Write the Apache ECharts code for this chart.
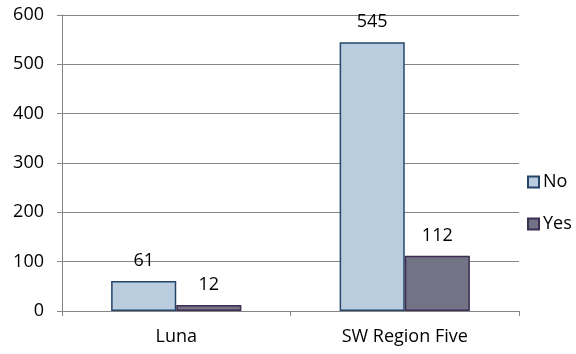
<!DOCTYPE html>
<html><head><meta charset="utf-8">
<script src="https://cdn.jsdelivr.net/npm/echarts@6/dist/echarts.min.js"></script>
<style>html,body{margin:0;padding:0;background:#fff}#c{width:576px;height:354px}</style>
</head><body><div id="c"></div>
<script>
const categories = ['Luna', 'SW Region Five'];
const seriesNames = ['No', 'Yes'];
const noValues = [61, 545];
const yesValues = [12, 112];
const yTicks = [0, 100, 200, 300, 400, 500, 600];

const font = '"Open Sans", "Liberation Sans", sans-serif';
const fs = 18;
const chart = echarts.init(document.getElementById('c'), null, {renderer: 'canvas'});
const label = {show: true, position: 'top', distance: 11, color: '#000', fontSize: fs, fontFamily: font};
chart.setOption({
  animation: false,
  grid: {left: 62, right: 57, top: 15, bottom: 43, containLabel: false},
  legend: {
    orient: 'vertical', left: 522, top: 168, itemWidth: 11, itemHeight: 11, itemGap: 24,
    icon: 'rect',
    textStyle: {fontSize: fs, fontFamily: font, color: '#000', padding: [0, 0, 0, -1]},
    data: seriesNames
  },
  xAxis: {
    type: 'category', data: categories,
    axisLine: {lineStyle: {color: '#868686', width: 1}},
    axisTick: {show: true, length: 5, lineStyle: {color: '#868686'}},
    axisLabel: {color: '#000', fontSize: fs, fontFamily: font, margin: 17}
  },
  yAxis: {
    type: 'value', min: yTicks[0], max: yTicks[yTicks.length - 1], interval: 100,
    axisLine: {show: true, lineStyle: {color: '#868686', width: 1}},
    axisTick: {show: true, length: 5, lineStyle: {color: '#868686'}},
    splitLine: {lineStyle: {color: '#868686', width: 1}},
    axisLabel: {color: '#000', fontSize: fs, fontFamily: font, margin: 18}
  },
  series: [
    {name: seriesNames[0], type: 'bar', data: noValues, barGap: '0%', barCategoryGap: '43%',
     itemStyle: {color: '#b9cddf', borderColor: '#25456a', borderWidth: 1.5}, label: label},
    {name: seriesNames[1], type: 'bar', data: yesValues,
     itemStyle: {color: '#737386', borderColor: '#3e2d52', borderWidth: 1.5}, label: label}
  ]
});
</script>
</body></html>
